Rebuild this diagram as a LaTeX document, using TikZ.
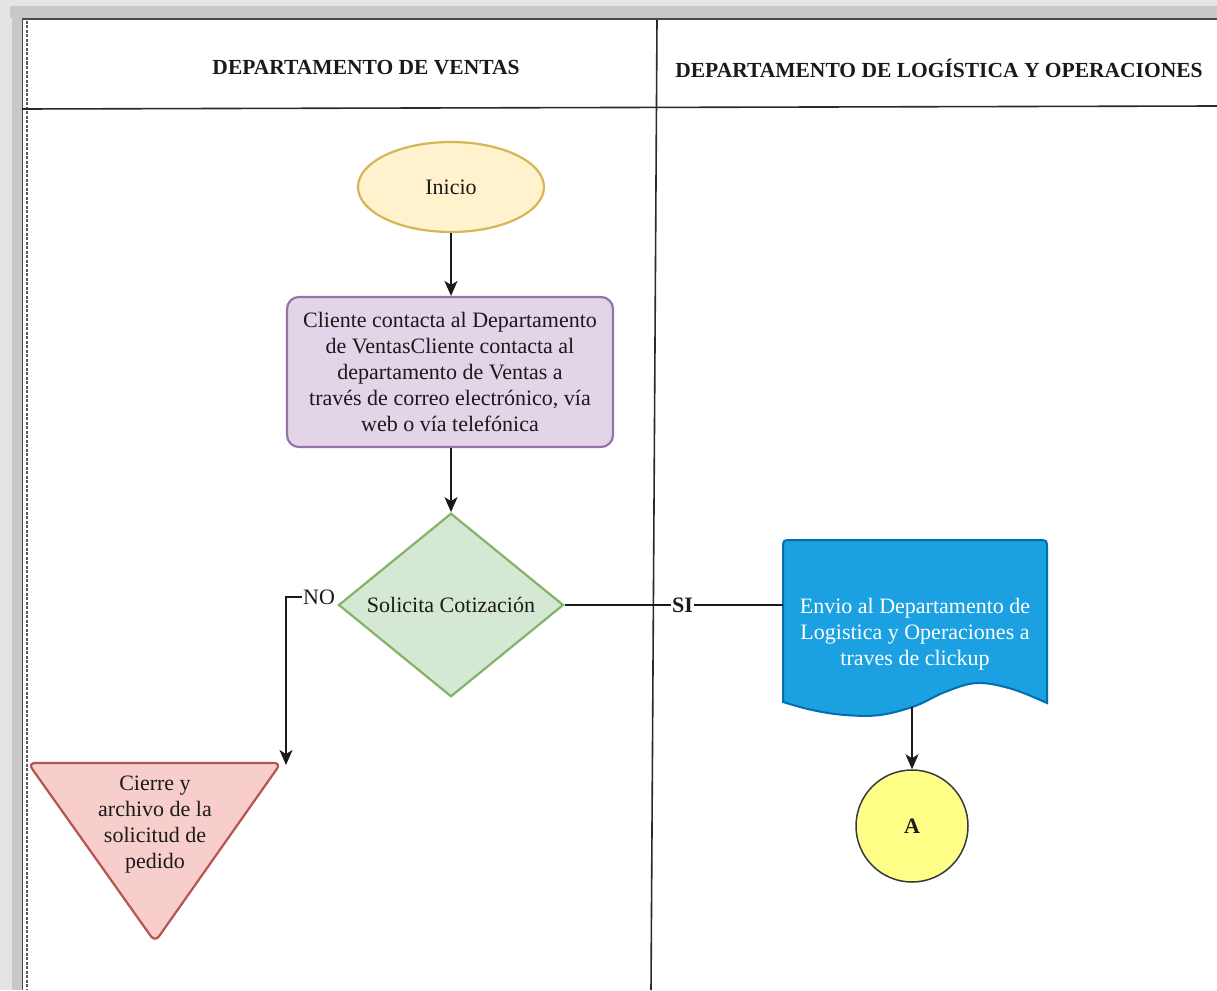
\documentclass[tikz,border=0pt]{standalone}
\usepackage{fontspec}
\setmainfont{Liberation Serif}
\usetikzlibrary{shapes.geometric,arrows.meta,calc}

\definecolor{ink}{HTML}{1A1A1A}
\definecolor{frameLight}{HTML}{E4E4E4}
\definecolor{frameMid}{HTML}{C8C8C8}
\definecolor{frameDark}{HTML}{4A4A4A}
\definecolor{laneLine}{HTML}{2A2A2A}
\definecolor{iniF}{HTML}{FFF2CC}
\definecolor{iniD}{HTML}{D6B656}
\definecolor{cliF}{HTML}{E1D5E7}
\definecolor{cliD}{HTML}{9673A6}
\definecolor{solF}{HTML}{D5E8D4}
\definecolor{solD}{HTML}{82B366}
\definecolor{cieF}{HTML}{F8CECC}
\definecolor{cieD}{HTML}{B85450}
\definecolor{docF}{HTML}{1BA1E2}
\definecolor{docD}{HTML}{006EAF}
\definecolor{aF}{HTML}{FFFF88}
\definecolor{aD}{HTML}{36393D}

\begin{document}
\begin{tikzpicture}[x=1pt,y=-1pt,
  txt/.style={font=\fontsize{22}{26}\selectfont, text=ink, align=center},
  head/.style={font=\fontsize{21.5}{26}\selectfont\bfseries, text=ink},
  shapeline/.style={line width=2.2pt},
  lane/.style={line width=1.6pt, draw=laneLine},
  conn/.style={line width=1.6pt, draw=ink},
  arr/.style={-{Stealth[length=15pt,width=13pt,inset=4pt]}},
  lbl/.style={font=\fontsize{22}{26}\selectfont, text=ink, fill=white, inner sep=1pt}
]
\useasboundingbox (0,0) rectangle (1217,990);
\fill[white] (0,0) rectangle (1217,990);

% editor frame around the page
\fill[frameLight] (0,0) rectangle (1217,19);
\fill[frameLight] (0,0) rectangle (22,990);
\fill[frameMid] (10,6) rectangle (1217,18);
\fill[frameMid] (12,6) rectangle (22,990);
\draw[line width=2.5pt, frameDark] (22,19) -- (1217,19);
\draw[line width=1.2pt, frameDark] (22.5,19) -- (22.5,990);
\draw[line width=1.6pt, draw=black!65, dash pattern=on 3pt off 1.5pt] (27,21) -- (27,990);

% swimlanes
\draw[lane] (22,109) -- (1217,106);
\draw[lane] (657,20) -- (651,990);
\node[head] (hVentas) at (366,68) {DEPARTAMENTO DE VENTAS};
\node[head] (hLog) at (939,68) {DEPARTAMENTO DE LOGÍSTICA Y OPERACIONES};

% process nodes
\node[ellipse, shapeline, draw=iniD, fill=iniF, minimum width=186pt, minimum height=90pt, txt] (ini) at (451,187) {Inicio};

\node[rectangle, rounded corners=12pt, shapeline, draw=cliD, fill=cliF, minimum width=326pt, minimum height=150pt, txt] (cli) at (450,372)
  {Cliente contacta al Departamento\\de VentasCliente contacta al\\departamento de Ventas a\\través de correo electrónico, vía\\web o vía telefónica};

\node[diamond, shapeline, draw=solD, fill=solF, minimum width=225pt, minimum height=168pt, inner sep=0pt, txt] (sol) at (451,605) {Solicita Cotización};

% closing triangle
\draw[shapeline, draw=cieD, fill=cieF, rounded corners=7pt] (28,763) -- (281,763) -- (155,942) -- cycle;
\node[txt] (cie) at (155,825) {Cierre y\\archivo de la\\solicitud de\\pedido};
\coordinate (cieTR) at (286,765);

% document shape
\draw[line width=2pt, draw=docD, fill=docF]
  (783,702) -- (783,549) .. controls (783,540) .. (792,540)
  -- (1038,540) .. controls (1047,540) .. (1047,549)
  -- (1047,703)
  -- plot[smooth, tension=0.6] coordinates {(1047,703) (1012,689) (977,683) (945,692) (915,706) (880,715) (845,715) (812,710) (783,702)}
  -- cycle;
\node[txt, text=white] (doc) at (915,634) {Envio al Departamento de\\Logistica y Operaciones a\\traves de clickup};
\coordinate (docL) at (783,605);
\coordinate (docB) at (912,707);

\node[circle, line width=1.5pt, draw=aD, fill=aF, minimum size=112pt, font=\fontsize{22}{26}\selectfont\bfseries, text=ink] (a) at (912,826) {A};

% connectors
\draw[conn, arr] (ini.south) -- (ini.south |- cli.north);
\draw[conn, arr] (cli.south -| sol.north) -- (sol.north);
\draw[conn, arr] ($(sol.west)+(-2,-8)$) -- node[lbl, pos=0.33] {NO} (286,597) -- (cieTR);
\draw[conn] (sol.east) -- node[lbl, pos=0.54, font=\fontsize{22}{26}\selectfont\bfseries] {SI} (docL);
\draw[conn, arr] (docB) -- (a.north);
\end{tikzpicture}
\end{document}
